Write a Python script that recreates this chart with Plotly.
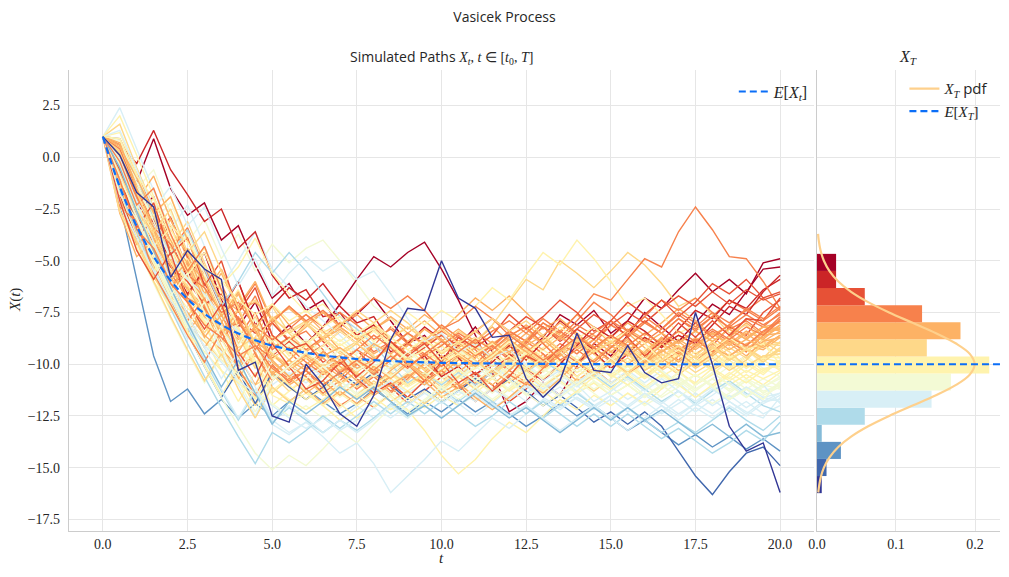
import plotly.graph_objects as go

# ---------------- data ----------------
time_step = 0.5  # t grid of the simulated paths: 0, 0.5, ..., 20

path_values = [
    [1.0, 0.3, -1.2, 0.9, -1.5, -2.8, -2.2, -4.0, -3.3, -5.2, -6.8, -6.1, -7.4, -6.9, -8.2, -7.6, -6.8, -7.9, -9.0, -8.6, -9.7, -9.1, -8.2, -9.4, -10.3, -9.5, -8.7, -7.6, -8.1, -7.4, -8.5, -7.9, -6.8, -7.3, -6.4, -5.6, -6.5, -5.9, -6.6, -5.1, -4.9],
    [1.0, -0.4, -2.6, -1.9, -4.1, -5.8, -4.6, -6.9, -8.2, -7.0, -8.9, -8.1, -9.0, -8.2, -7.1, -5.9, -4.8, -5.3, -4.6, -4.1, -5.4, -6.9, -8.6, -10.4, -12.3, -11.8, -10.9, -11.5, -10.1, -9.0, -9.6, -8.6, -7.5, -8.2, -8.9, -8.0, -7.1, -7.6, -6.5, -5.4, -5.3],
    [1.0, 0.6, -0.3, 1.3, -0.6, -1.8, -3.1, -2.5, -4.4, -3.6, -5.7, -6.8, -6.4, -7.7, -7.5, -8.6, -8.1, -9.4, -9.0, -8.2, -8.8, -9.7, -10.5, -9.9, -9.1, -9.8, -8.9, -7.9, -8.5, -9.4, -10.2, -9.5, -8.7, -9.2, -8.3, -7.4, -7.8, -6.9, -7.3, -6.4, -5.9],
    [1.0, -1.8, -3.9, -3.0, -5.2, -6.6, -5.4, -7.3, -6.0, -8.1, -7.2, -6.3, -6.9, -6.1, -7.2, -8.0, -7.7, -8.9, -10.1, -9.6, -10.6, -10.1, -11.0, -10.4, -9.5, -10.2, -10.8, -10.0, -9.1, -8.2, -8.7, -7.9, -8.4, -9.1, -8.6, -9.0, -8.1, -7.2, -7.6, -6.5, -5.7],
    [1.0, -0.9, -3.4, -2.2, -4.7, -3.9, -6.2, -5.0, -7.5, -6.3, -8.6, -9.3, -9.0, -9.9, -9.6, -10.7, -11.4, -10.9, -11.6, -10.8, -9.9, -8.7, -9.2, -8.6, -7.6, -8.3, -7.7, -6.9, -7.5, -8.4, -7.9, -8.7, -9.6, -8.9, -8.0, -8.7, -7.9, -8.6, -7.8, -7.9, -6.8],
    [1.0, -2.1, -4.5, -5.9, -4.6, -7.0, -8.3, -7.1, -9.4, -10.6, -9.0, -10.1, -11.2, -10.8, -9.9, -10.6, -9.9, -8.9, -9.6, -9.0, -9.9, -10.9, -10.4, -11.3, -10.6, -9.6, -10.0, -9.2, -8.3, -8.8, -7.9, -7.0, -7.6, -6.9, -7.7, -7.0, -6.1, -6.6, -5.9, -6.8, -6.5],
    [1.0, 0.1, -2.0, -3.8, -2.9, -4.8, -6.1, -7.4, -6.0, -8.2, -9.6, -8.9, -8.0, -8.9, -9.8, -9.3, -10.2, -11.1, -11.9, -11.3, -10.6, -11.2, -10.5, -11.0, -11.8, -11.2, -10.3, -9.4, -9.9, -10.6, -9.9, -10.4, -9.7, -8.7, -9.2, -9.9, -9.1, -8.2, -8.6, -7.5, -6.9],
    [1.0, -1.1, -2.7, -5.0, -6.3, -5.1, -7.2, -8.5, -7.3, -6.1, -8.0, -8.8, -8.4, -9.3, -10.4, -10.0, -9.1, -8.2, -8.9, -9.8, -9.4, -8.6, -9.3, -10.1, -9.7, -8.9, -9.5, -10.4, -9.9, -9.0, -8.1, -8.6, -7.9, -8.5, -9.3, -8.8, -9.4, -8.7, -7.8, -8.2, -7.5],
    [1.0, 0.4, -1.6, -3.2, -4.9, -6.7, -5.5, -7.6, -9.0, -8.2, -10.1, -10.7, -10.3, -11.2, -12.0, -11.5, -12.1, -11.4, -10.5, -10.9, -10.0, -9.2, -9.7, -9.1, -9.8, -9.0, -8.2, -8.7, -7.9, -7.0, -7.6, -8.4, -7.7, -6.9, -7.4, -6.8, -7.5, -8.3, -7.9, -8.5, -7.7],
    [1.0, -1.5, -3.6, -4.4, -6.2, -7.9, -6.8, -8.9, -7.7, -9.5, -10.8, -10.1, -10.6, -11.4, -10.8, -10.0, -10.5, -9.8, -9.0, -9.5, -10.1, -9.5, -10.0, -9.2, -8.4, -8.9, -8.0, -8.5, -7.6, -6.6, -6.9, -5.9, -4.9, -5.3, -3.6, -2.4, -3.5, -4.8, -4.9, -6.0, -7.3],
    [1.0, -2.4, -3.1, -5.6, -7.1, -8.6, -9.9, -8.4, -10.2, -11.5, -10.0, -10.9, -10.3, -9.4, -10.0, -9.3, -8.6, -9.2, -10.0, -10.8, -10.3, -11.0, -11.8, -11.2, -10.5, -11.0, -10.2, -9.4, -9.9, -9.2, -9.8, -10.5, -9.9, -9.0, -9.5, -8.8, -9.4, -8.7, -9.1, -8.4, -7.9],
    [1.0, -0.2, -2.3, -1.5, -3.7, -5.5, -4.3, -6.4, -7.9, -9.3, -8.0, -7.2, -7.9, -7.4, -8.1, -7.5, -6.8, -7.3, -6.7, -7.4, -8.3, -7.9, -7.2, -7.8, -8.6, -8.2, -9.0, -9.8, -9.3, -9.9, -9.2, -8.4, -8.9, -8.3, -7.5, -8.0, -8.7, -8.1, -7.3, -7.8, -7.2],
    [1.0, -1.3, -2.9, -4.1, -3.3, -5.4, -7.3, -6.1, -8.0, -6.7, -8.6, -9.4, -10.2, -9.7, -10.5, -11.2, -10.6, -11.3, -10.7, -9.9, -10.4, -11.2, -10.6, -9.8, -10.3, -10.9, -10.3, -9.5, -8.7, -9.2, -9.9, -9.4, -10.0, -9.3, -9.8, -9.1, -8.4, -8.9, -9.4, -8.6, -7.8],
    [1.0, 0.9, -0.8, -2.6, -4.5, -3.4, -5.3, -7.0, -8.7, -7.5, -9.3, -8.7, -9.3, -8.7, -8.0, -8.6, -9.4, -8.9, -9.5, -8.9, -8.1, -8.7, -9.5, -9.0, -9.7, -10.3, -9.7, -9.0, -9.5, -8.8, -8.1, -8.6, -7.9, -8.5, -7.8, -8.4, -7.7, -6.9, -7.4, -6.8, -7.4],
    [1.0, -1.0, -3.0, -4.6, -6.4, -5.2, -7.1, -8.8, -10.1, -8.7, -10.4, -9.8, -9.0, -9.7, -10.3, -9.8, -10.4, -9.8, -9.1, -8.3, -8.9, -8.3, -8.9, -9.7, -9.2, -8.5, -9.0, -9.8, -10.6, -10.0, -9.4, -10.0, -9.4, -8.7, -9.2, -9.9, -9.3, -8.6, -9.1, -8.5, -8.3],
    [1.0, -2.2, -4.2, -3.5, -5.8, -7.6, -9.2, -8.0, -6.6, -8.3, -7.1, -8.1, -7.6, -8.4, -9.3, -10.2, -9.8, -9.1, -9.9, -10.8, -11.6, -11.1, -10.4, -11.0, -10.3, -9.5, -10.1, -9.4, -10.0, -9.4, -8.6, -9.2, -9.9, -9.3, -9.9, -9.2, -8.5, -9.1, -8.5, -9.1, -8.6],
    [1.0, 0.5, -1.0, -2.7, -1.9, -4.0, -5.9, -7.7, -6.5, -8.4, -9.8, -10.6, -11.4, -10.8, -11.5, -10.9, -10.1, -10.7, -10.0, -10.6, -11.4, -10.9, -11.6, -12.2, -11.6, -10.9, -11.4, -10.7, -9.9, -10.4, -9.7, -8.9, -9.5, -8.8, -9.4, -10.1, -9.5, -8.8, -9.3, -8.6, -8.1],
    [1.0, -0.7, -2.5, -4.4, -3.0, -4.9, -6.8, -5.6, -7.4, -9.0, -7.8, -8.9, -8.2, -7.5, -8.1, -7.6, -8.3, -7.8, -8.5, -7.9, -8.6, -9.4, -8.9, -8.2, -8.9, -8.3, -9.0, -8.4, -7.6, -8.2, -9.0, -8.5, -9.2, -9.9, -9.4, -8.7, -9.3, -8.7, -8.0, -8.6, -8.5],
    [1.0, -1.9, -3.3, -5.1, -6.9, -8.5, -7.3, -9.2, -10.7, -9.4, -11.1, -11.8, -11.2, -11.9, -11.3, -11.9, -11.3, -10.5, -11.0, -10.4, -9.6, -10.2, -10.9, -10.3, -10.9, -10.3, -9.5, -10.1, -10.8, -10.2, -10.9, -10.4, -9.7, -10.2, -9.6, -8.8, -9.4, -10.1, -9.6, -8.9, -8.7],
    [1.0, 0.0, -2.1, -0.9, -3.0, -4.7, -6.6, -5.4, -7.2, -6.0, -7.9, -7.2, -8.0, -8.8, -8.3, -9.0, -9.7, -9.2, -8.5, -9.1, -8.4, -7.6, -6.8, -7.4, -6.7, -7.5, -8.3, -7.8, -8.5, -9.2, -8.7, -8.0, -8.6, -8.0, -7.3, -7.9, -8.6, -8.1, -8.7, -8.2, -8.0],
    [1.0, -1.2, -1.8, -3.9, -5.6, -4.4, -6.3, -7.9, -9.6, -11.0, -9.5, -10.3, -9.7, -10.4, -9.8, -10.5, -11.2, -10.6, -9.9, -10.5, -9.8, -10.4, -9.7, -8.9, -9.5, -8.8, -8.0, -8.6, -9.3, -8.8, -9.4, -8.8, -9.5, -10.2, -9.6, -9.0, -9.6, -9.0, -9.6, -8.9, -8.4],
    [1.0, -2.7, -4.8, -4.0, -6.0, -5.0, -6.9, -8.6, -7.4, -9.1, -10.5, -9.8, -10.3, -9.6, -9.2, -9.8, -9.0, -9.5, -8.9, -8.3, -8.8, -9.6, -10.1, -9.7, -9.0, -9.4, -8.8, -9.5, -10.2, -9.8, -9.1, -9.6, -9.0, -9.7, -10.3, -9.9, -9.2, -9.6, -9.0, -8.7, -8.2],
    [1.0, 0.7, -1.5, -3.4, -5.2, -7.0, -8.7, -7.6, -9.4, -8.1, -9.9, -10.6, -10.0, -9.4, -10.1, -10.8, -11.5, -11.0, -10.5, -11.0, -10.3, -9.6, -10.1, -9.5, -8.8, -9.4, -10.0, -9.4, -8.7, -9.2, -8.6, -9.2, -9.9, -9.4, -8.8, -9.3, -8.7, -9.3, -8.8, -9.2, -8.6],
    [1.0, -0.5, -2.2, -4.0, -5.9, -7.7, -6.5, -8.4, -10.0, -8.7, -7.2, -8.5, -9.3, -8.8, -9.5, -9.0, -8.3, -8.9, -9.6, -10.3, -9.9, -9.3, -9.9, -10.6, -10.1, -9.5, -10.1, -9.6, -8.9, -9.5, -10.2, -9.7, -10.3, -9.8, -9.1, -9.7, -10.3, -9.8, -9.2, -9.8, -9.2],
    [1.0, -1.6, -3.7, -5.4, -4.3, -6.3, -8.0, -9.6, -8.3, -10.0, -11.4, -10.7, -11.2, -10.5, -9.8, -10.4, -9.7, -10.2, -9.5, -8.7, -9.1, -8.4, -8.9, -8.1, -7.0, -5.9, -6.4, -5.0, -5.6, -6.3, -5.5, -4.6, -5.2, -6.1, -7.2, -6.8, -7.6, -8.5, -8.1, -8.9, -9.4],
    [1.0, 1.6, -0.5, -2.4, -4.3, -3.1, -5.1, -7.0, -8.6, -10.2, -8.9, -9.8, -10.7, -11.5, -11.0, -11.7, -11.1, -10.4, -11.0, -10.5, -11.1, -10.6, -9.9, -10.4, -9.8, -10.3, -11.0, -10.5, -9.9, -10.4, -9.8, -9.1, -9.6, -10.3, -9.8, -10.4, -9.9, -9.2, -9.7, -9.1, -9.0],
    [1.0, -1.3, -3.5, -2.8, -4.9, -6.8, -8.5, -7.2, -9.0, -7.7, -9.5, -8.8, -8.1, -8.7, -9.4, -8.9, -8.2, -8.8, -8.2, -8.8, -9.5, -9.0, -9.6, -10.3, -9.8, -9.2, -9.8, -9.2, -9.8, -10.5, -10.0, -9.4, -10.0, -9.5, -10.1, -9.6, -8.9, -9.4, -10.1, -9.6, -9.5],
    [1.0, -2.6, -4.1, -6.0, -7.7, -9.3, -10.8, -9.5, -11.2, -12.6, -11.1, -11.8, -11.2, -10.4, -11.0, -10.4, -11.1, -11.8, -11.3, -11.9, -11.3, -10.6, -11.2, -10.6, -9.8, -10.4, -9.7, -10.3, -11.0, -10.5, -9.8, -10.4, -9.8, -9.0, -9.6, -10.2, -9.7, -10.3, -9.8, -9.0, -9.1],
    [1.0, 0.2, -1.7, -3.6, -2.5, -4.6, -3.6, -5.5, -7.3, -9.0, -7.7, -8.5, -8.0, -8.7, -8.1, -7.4, -8.0, -7.4, -8.0, -8.8, -8.3, -9.0, -8.4, -7.8, -8.4, -7.9, -8.6, -9.3, -8.8, -9.4, -8.9, -9.5, -10.3, -9.8, -9.1, -9.7, -9.1, -9.8, -9.3, -9.9, -9.3],
    [1.0, -1.0, -2.9, -4.8, -6.6, -5.5, -7.4, -9.1, -10.6, -12.0, -10.5, -11.3, -10.7, -11.4, -12.1, -11.5, -10.8, -11.4, -10.8, -10.0, -10.6, -11.3, -10.7, -11.3, -10.7, -11.4, -12.0, -11.4, -10.7, -11.3, -10.7, -10.0, -10.6, -9.9, -10.5, -9.9, -9.2, -9.8, -9.2, -9.7, -8.9],
    [1.0, -0.3, -2.4, -4.2, -6.0, -4.9, -6.8, -8.5, -7.3, -9.0, -10.5, -9.8, -9.1, -9.7, -9.0, -9.6, -10.3, -9.8, -10.4, -9.8, -9.1, -9.7, -9.1, -9.8, -10.5, -10.0, -9.3, -9.9, -9.3, -9.9, -10.6, -10.1, -10.7, -10.1, -9.4, -10.0, -9.4, -10.0, -10.7, -10.2, -10.1],
    [1.0, -1.4, -3.2, -5.0, -6.7, -8.4, -10.0, -11.5, -10.1, -11.7, -10.2, -11.0, -11.7, -11.2, -11.9, -12.6, -12.1, -11.5, -12.2, -13.2, -14.4, -15.3, -14.6, -13.6, -12.8, -13.3, -12.5, -11.7, -12.2, -11.5, -12.0, -11.4, -11.9, -11.2, -10.4, -10.9, -10.2, -10.7, -10.0, -10.5, -9.8],
    [1.0, 1.2, -0.8, -2.8, -1.9, -3.9, -5.8, -7.6, -6.4, -8.2, -9.8, -9.1, -9.7, -9.1, -8.4, -9.0, -8.4, -9.1, -9.8, -9.3, -9.9, -9.4, -8.7, -9.3, -10.0, -9.5, -8.8, -9.4, -8.8, -9.4, -8.9, -9.5, -10.2, -9.7, -10.3, -11.0, -10.5, -9.8, -10.4, -9.8, -10.3],
    [1.0, -1.1, -2.6, -4.3, -3.4, -5.4, -4.4, -6.2, -5.3, -3.9, -5.6, -6.6, -7.5, -7.1, -7.9, -8.7, -8.3, -9.0, -9.8, -9.3, -10.0, -9.5, -10.1, -9.6, -8.9, -9.5, -8.9, -8.2, -8.8, -8.2, -8.9, -8.4, -9.0, -9.8, -9.3, -9.9, -9.3, -8.7, -9.3, -9.0, -10.0],
    [1.0, -2.0, -3.9, -5.7, -7.4, -6.3, -8.1, -9.7, -8.4, -10.1, -8.7, -9.5, -8.9, -9.5, -10.2, -9.7, -10.3, -11.0, -10.5, -9.8, -10.4, -9.8, -9.1, -9.7, -9.1, -9.8, -9.2, -8.5, -9.1, -9.8, -9.3, -9.9, -9.3, -8.7, -9.3, -8.8, -9.4, -10.1, -9.6, -9.0, -9.7],
    [1.0, 0.3, -1.9, -3.3, -5.2, -7.0, -8.7, -10.3, -11.8, -10.4, -12.0, -11.3, -10.6, -11.1, -10.4, -9.7, -10.2, -9.5, -10.1, -9.5, -8.8, -9.4, -10.0, -9.4, -10.0, -10.7, -10.2, -10.8, -11.4, -10.9, -11.5, -11.0, -11.6, -11.0, -10.4, -11.0, -10.4, -11.0, -10.5, -11.0, -10.4],
    [1.0, -0.6, -2.8, -2.0, -4.1, -6.0, -7.8, -6.6, -8.4, -10.0, -11.5, -11.9, -11.4, -12.0, -11.4, -12.0, -11.4, -10.7, -11.3, -10.7, -11.2, -10.6, -11.2, -11.8, -11.2, -10.5, -11.1, -10.5, -9.8, -10.4, -9.8, -10.4, -9.8, -10.4, -11.0, -10.5, -11.1, -10.5, -9.9, -10.4, -9.9],
    [1.0, -1.7, -3.8, -5.5, -4.4, -6.3, -8.0, -9.6, -8.3, -10.0, -8.6, -9.6, -9.0, -8.3, -8.9, -8.3, -8.9, -8.3, -7.5, -8.1, -7.4, -7.9, -7.2, -6.3, -6.9, -5.7, -4.6, -5.2, -4.0, -4.9, -6.0, -7.2, -6.8, -7.6, -8.5, -8.1, -8.9, -9.7, -9.3, -10.0, -10.2],
    [1.0, 2.0, 0.1, -1.9, -3.8, -5.7, -4.6, -6.5, -8.2, -9.8, -11.3, -10.6, -11.3, -12.0, -12.7, -12.2, -11.6, -12.2, -11.6, -12.1, -11.5, -12.0, -11.4, -10.7, -11.3, -10.7, -11.3, -11.9, -11.3, -10.6, -11.2, -10.5, -11.1, -10.5, -11.0, -11.6, -11.0, -10.4, -10.9, -10.3, -9.8],
    [1.0, -0.9, -2.9, -4.7, -6.5, -8.2, -7.0, -8.8, -10.4, -9.1, -10.7, -10.1, -9.4, -10.0, -9.3, -9.9, -10.6, -10.1, -9.4, -10.0, -10.7, -10.2, -10.8, -10.2, -10.8, -11.5, -11.0, -11.6, -11.0, -10.4, -11.0, -10.4, -11.0, -11.6, -11.1, -10.5, -11.1, -11.7, -11.2, -11.7, -10.8],
    [1.0, -0.2, -1.4, -3.1, -2.2, -4.1, -3.0, -4.9, -3.7, -5.5, -4.2, -5.1, -4.4, -4.0, -5.0, -6.1, -7.2, -7.8, -8.6, -9.5, -9.1, -9.8, -9.3, -9.9, -10.6, -10.1, -10.7, -10.2, -9.6, -10.2, -9.7, -10.3, -9.8, -10.4, -11.0, -10.5, -11.1, -10.6, -11.2, -10.7, -11.1],
    [1.0, -2.3, -4.3, -6.1, -7.8, -9.4, -10.9, -9.6, -8.3, -10.0, -8.6, -9.4, -8.8, -9.4, -8.8, -9.5, -8.9, -9.6, -10.3, -9.8, -10.4, -11.1, -10.6, -11.2, -10.7, -10.0, -10.6, -10.0, -10.6, -11.2, -10.7, -10.1, -10.7, -10.1, -9.5, -10.1, -9.5, -10.1, -9.6, -10.2, -10.6],
    [1.0, -1.5, -3.3, -5.1, -6.8, -8.5, -10.1, -11.6, -13.0, -14.3, -15.1, -14.4, -14.9, -14.1, -13.2, -13.8, -12.9, -12.1, -12.6, -11.8, -11.0, -11.5, -10.8, -11.4, -10.8, -11.4, -12.0, -11.4, -10.8, -11.4, -12.0, -11.4, -12.0, -11.5, -10.8, -11.4, -11.9, -11.4, -10.8, -11.3, -11.0],
    [1.0, 0.8, -1.2, -3.1, -4.9, -3.7, -5.6, -7.4, -9.1, -7.8, -9.5, -8.8, -9.4, -10.2, -9.7, -10.3, -9.8, -9.1, -9.7, -9.1, -9.8, -9.3, -9.9, -10.6, -11.3, -10.8, -10.2, -10.8, -10.2, -10.8, -11.5, -11.0, -11.6, -11.1, -10.4, -11.0, -10.4, -11.0, -11.6, -11.1, -10.7],
    [1.0, -0.4, -2.5, -4.4, -6.2, -7.9, -9.5, -8.2, -9.9, -11.4, -9.9, -10.6, -11.2, -10.6, -11.3, -10.7, -10.0, -10.6, -10.0, -10.6, -11.3, -10.7, -10.1, -10.7, -10.1, -9.4, -10.0, -9.4, -10.0, -10.7, -10.2, -10.8, -11.5, -11.0, -11.6, -11.0, -10.4, -11.0, -11.6, -11.0, -11.2],
    [1.0, -1.8, -3.0, -4.9, -6.7, -5.6, -7.5, -9.2, -10.8, -12.3, -10.8, -10.1, -10.7, -10.1, -10.8, -11.5, -11.0, -11.6, -12.3, -11.7, -11.1, -11.7, -11.1, -11.7, -11.1, -10.4, -11.0, -10.4, -11.0, -10.4, -9.7, -10.3, -9.7, -10.3, -11.0, -10.5, -11.1, -11.7, -11.2, -11.7, -10.9],
    [1.0, 0.5, -1.5, -0.6, -2.7, -4.6, -6.4, -8.1, -9.7, -8.4, -10.1, -10.9, -10.3, -10.9, -11.6, -11.0, -10.4, -11.0, -10.4, -9.7, -10.3, -9.6, -9.0, -9.6, -9.0, -9.7, -10.4, -9.8, -10.4, -9.9, -10.5, -9.9, -10.5, -11.2, -10.7, -11.3, -10.7, -10.1, -10.7, -11.4, -11.0],
    [1.0, 2.4, 0.4, -1.6, -3.5, -2.3, -4.3, -6.2, -5.0, -3.6, -5.4, -6.3, -7.2, -7.9, -8.6, -9.4, -9.0, -9.7, -10.4, -9.9, -10.5, -10.0, -10.6, -10.0, -10.7, -11.4, -10.9, -11.5, -10.9, -10.3, -10.9, -10.3, -10.9, -10.3, -10.9, -11.6, -11.1, -11.7, -11.2, -11.8, -11.7],
    [1.0, -1.0, -2.9, -4.7, -6.4, -8.1, -9.7, -11.2, -12.6, -11.2, -12.7, -13.3, -12.8, -13.5, -14.3, -13.8, -14.8, -16.2, -15.4, -14.6, -13.7, -14.2, -13.4, -12.6, -13.1, -12.4, -11.7, -12.2, -11.6, -12.1, -11.5, -12.1, -11.5, -12.0, -12.7, -12.1, -12.6, -12.0, -12.5, -11.9, -11.5],
    [1.0, 1.3, -0.6, -2.5, -1.4, -3.3, -2.4, -4.4, -6.2, -4.9, -6.7, -5.6, -4.8, -5.5, -5.0, -5.9, -5.5, -6.6, -7.8, -8.9, -8.5, -9.4, -9.0, -9.7, -9.3, -10.0, -10.8, -10.3, -11.0, -11.8, -11.3, -10.7, -11.3, -10.7, -11.3, -12.0, -11.5, -10.9, -11.5, -11.0, -11.9],
    [1.0, -0.1, -2.2, -4.1, -5.9, -7.6, -9.2, -10.7, -9.4, -11.1, -12.6, -12.0, -12.6, -13.3, -12.7, -13.3, -12.7, -12.0, -12.6, -12.0, -12.6, -12.0, -11.3, -11.9, -12.5, -12.0, -12.6, -13.2, -12.6, -12.0, -12.6, -13.2, -12.6, -12.0, -12.5, -11.9, -11.2, -11.8, -12.4, -11.8, -11.4],
    [1.0, -1.3, -3.4, -5.3, -7.1, -8.8, -7.6, -9.4, -11.0, -12.5, -11.0, -10.4, -10.9, -10.3, -9.6, -10.2, -9.6, -10.3, -11.0, -10.5, -11.1, -10.6, -9.9, -10.5, -9.9, -10.5, -11.2, -10.7, -11.3, -12.0, -11.5, -12.1, -12.8, -12.3, -11.7, -12.3, -11.7, -12.3, -11.8, -12.4, -12.0],
    [1.0, 0.4, -1.8, -3.7, -5.5, -4.4, -6.3, -8.1, -9.8, -11.4, -12.9, -13.4, -12.8, -13.3, -12.7, -12.0, -12.6, -12.0, -11.3, -11.9, -11.3, -11.9, -12.5, -11.9, -11.2, -11.8, -11.2, -10.5, -11.1, -10.5, -11.1, -11.7, -11.2, -11.8, -12.4, -11.9, -12.4, -11.8, -12.3, -12.6, -11.6],
    [1.0, -0.8, -2.8, -4.7, -6.5, -8.2, -9.8, -11.3, -12.7, -11.3, -12.8, -12.1, -12.7, -13.3, -12.7, -13.2, -12.6, -11.9, -12.5, -11.9, -11.2, -11.8, -11.2, -11.8, -12.5, -12.0, -12.6, -12.0, -11.4, -12.0, -12.6, -12.1, -12.7, -13.3, -12.8, -13.3, -12.7, -12.1, -12.7, -13.2, -12.5],
    [1.0, 0.9, -1.0, -2.9, -4.7, -3.5, -5.4, -7.2, -6.0, -4.6, -5.6, -4.6, -5.5, -6.6, -7.7, -8.3, -9.1, -10.0, -10.9, -10.4, -11.0, -10.4, -11.0, -10.4, -9.8, -10.4, -9.8, -10.4, -11.0, -10.5, -11.1, -10.6, -11.2, -11.8, -11.3, -11.9, -11.3, -10.8, -11.4, -12.0, -12.3],
    [1.0, -1.6, -3.6, -5.5, -7.3, -9.0, -10.6, -12.1, -13.5, -14.8, -13.3, -13.8, -13.2, -12.5, -13.1, -12.5, -11.8, -12.4, -11.8, -12.4, -11.8, -12.4, -13.0, -12.5, -11.8, -12.4, -11.8, -12.4, -13.0, -12.4, -13.0, -12.4, -13.0, -13.6, -13.1, -13.7, -14.3, -13.8, -13.2, -13.7, -12.8],
    [1.0, -0.5, -2.6, -4.5, -6.3, -8.0, -9.6, -11.1, -9.8, -11.4, -12.9, -11.8, -12.4, -11.8, -11.1, -11.7, -11.1, -11.8, -12.5, -12.0, -12.6, -12.0, -11.4, -12.0, -12.6, -12.1, -12.7, -13.3, -12.7, -12.1, -12.7, -12.1, -12.7, -12.2, -12.8, -13.4, -12.9, -13.5, -12.9, -13.5, -13.3],
    [1.0, -2.2, -5.9, -9.6, -11.8, -11.2, -12.4, -11.7, -12.6, -11.9, -12.5, -11.8, -11.2, -11.8, -12.4, -11.9, -11.2, -11.8, -12.4, -11.8, -12.3, -11.7, -12.3, -11.8, -12.4, -13.0, -12.5, -11.9, -12.5, -12.0, -12.6, -13.2, -12.7, -13.3, -13.9, -13.4, -14.0, -13.5, -14.1, -13.6, -14.2],
    [1.0, -1.2, -3.1, -5.0, -6.8, -8.5, -10.1, -11.6, -10.3, -11.9, -10.4, -11.1, -11.7, -11.1, -10.4, -11.0, -10.4, -11.0, -11.7, -11.2, -11.8, -11.3, -10.7, -11.3, -10.7, -11.3, -12.0, -11.5, -12.1, -12.8, -12.3, -12.9, -12.3, -13.0, -14.2, -15.4, -16.3, -15.2, -14.3, -14.0, -14.9],
    [1.0, -0.6, -2.9, -4.1, -5.3, -6.0, -7.1, -6.6, -7.8, -8.5, -8.0, -8.9, -9.6, -9.1, -8.4, -9.0, -8.3, -8.9, -9.7, -9.2, -8.6, -9.1, -8.4, -7.8, -8.4, -7.7, -8.2, -8.9, -8.3, -7.6, -8.1, -7.5, -8.0, -7.3, -6.7, -7.2, -6.5, -7.1, -6.4, -6.9, -6.6],
    [1.0, -1.8, -3.0, -4.9, -5.6, -6.8, -7.3, -8.4, -8.0, -9.1, -9.7, -9.2, -9.9, -10.5, -10.0, -9.3, -9.8, -9.1, -8.5, -9.0, -8.4, -8.9, -9.6, -9.1, -8.4, -8.9, -8.2, -8.8, -8.1, -8.6, -9.2, -8.7, -8.0, -8.5, -7.8, -8.3, -7.7, -8.2, -7.6, -8.1, -7.6],
    [1.0, 0.1, -1.9, -3.4, -4.2, -5.7, -6.3, -7.5, -7.0, -8.2, -8.8, -8.3, -7.6, -8.2, -7.5, -8.1, -8.8, -8.3, -9.0, -9.6, -9.1, -8.5, -9.0, -8.4, -7.9, -8.5, -7.8, -8.4, -9.0, -8.5, -7.9, -8.4, -7.7, -8.3, -7.6, -8.2, -7.5, -8.0, -7.4, -7.9, -7.3],
    [1.0, -1.1, -3.5, -4.4, -6.1, -7.0, -8.1, -8.7, -9.6, -9.1, -10.2, -10.8, -10.3, -11.0, -10.4, -9.8, -10.3, -9.6, -10.2, -9.5, -8.9, -9.4, -8.8, -9.3, -8.6, -9.2, -9.8, -9.3, -8.7, -9.2, -8.6, -9.1, -8.5, -9.0, -8.4, -8.9, -8.3, -8.8, -8.2, -8.6, -7.9],
    [1.0, -0.3, -2.2, -3.9, -5.0, -6.4, -7.2, -8.1, -8.8, -8.3, -9.2, -8.7, -9.4, -8.8, -8.2, -8.8, -9.5, -9.0, -9.7, -9.1, -8.6, -9.2, -8.7, -9.3, -8.7, -8.1, -8.7, -9.3, -8.8, -9.4, -8.9, -8.3, -8.8, -9.4, -8.9, -8.4, -8.9, -8.3, -8.8, -8.2, -8.4],
    [1.0, -2.0, -3.8, -5.2, -6.7, -7.5, -8.6, -9.3, -10.1, -9.6, -10.4, -11.0, -10.5, -10.0, -10.6, -9.9, -10.5, -11.1, -10.6, -10.0, -10.5, -9.8, -9.2, -9.7, -9.1, -9.6, -10.2, -9.6, -9.0, -9.5, -8.9, -9.4, -8.7, -9.2, -8.6, -9.1, -8.5, -9.0, -8.4, -8.8, -8.1],
    [1.0, 0.6, -1.3, -2.6, -4.0, -5.1, -5.9, -6.8, -7.4, -7.0, -7.8, -7.3, -8.0, -7.5, -8.2, -8.8, -8.3, -7.7, -8.3, -7.6, -8.2, -8.9, -8.4, -9.0, -8.5, -9.1, -8.6, -8.0, -8.6, -9.2, -8.7, -9.3, -8.8, -9.4, -8.9, -9.5, -9.0, -9.6, -9.1, -9.3, -8.7],
    [1.0, -1.2, -2.5, -4.6, -5.9, -6.3, -7.7, -8.4, -7.9, -8.9, -9.5, -10.1, -9.6, -10.2, -10.9, -10.4, -11.0, -10.3, -9.7, -10.2, -9.6, -10.1, -9.5, -8.9, -9.4, -8.8, -9.3, -8.7, -9.2, -8.6, -9.1, -9.6, -9.0, -8.5, -9.0, -8.4, -8.9, -8.3, -8.8, -8.2, -8.3],
    [1.0, -0.8, -2.6, -3.7, -5.5, -6.2, -7.6, -8.3, -9.2, -8.7, -9.5, -10.0, -9.5, -10.1, -9.6, -9.0, -9.6, -10.2, -9.7, -10.3, -9.8, -9.2, -9.8, -10.4, -9.9, -9.3, -9.9, -9.4, -8.8, -9.4, -8.9, -9.5, -10.1, -9.6, -9.1, -9.7, -9.2, -9.8, -9.3, -9.7, -9.3],
    [1.0, -2.4, -4.0, -5.8, -6.9, -8.1, -8.9, -9.8, -10.4, -11.0, -10.5, -11.1, -11.7, -11.2, -10.6, -11.1, -10.5, -11.0, -10.4, -9.8, -10.3, -9.7, -10.2, -9.6, -10.1, -9.5, -10.0, -9.4, -9.9, -9.3, -9.8, -9.2, -9.7, -9.1, -9.6, -9.0, -9.5, -8.9, -9.4, -8.8, -9.0],
    [1.0, 0.3, -1.6, -2.8, -3.5, -4.6, -5.8, -6.4, -7.3, -6.9, -7.8, -8.4, -7.9, -8.5, -8.0, -8.6, -8.1, -8.7, -8.2, -8.8, -9.4, -8.9, -9.5, -9.0, -9.6, -9.1, -9.7, -10.3, -9.8, -10.4, -9.9, -9.4, -10.0, -9.5, -10.1, -9.6, -10.2, -9.7, -10.1, -9.6, -9.5],
    [1.0, -1.5, -3.3, -4.8, -6.2, -7.3, -7.9, -8.8, -9.4, -10.1, -9.6, -10.2, -9.7, -10.3, -10.9, -10.4, -11.0, -10.5, -11.1, -10.6, -10.1, -10.7, -10.2, -9.6, -10.2, -9.7, -10.3, -9.8, -10.4, -9.9, -10.5, -10.0, -10.6, -10.1, -9.5, -10.1, -9.6, -10.2, -9.7, -10.3, -10.0],
    [1.0, 0.0, -2.3, -3.6, -5.1, -5.8, -7.0, -7.6, -8.5, -8.1, -8.9, -8.4, -9.0, -8.5, -9.1, -8.6, -9.2, -8.7, -9.3, -9.9, -9.4, -10.0, -9.5, -10.1, -9.6, -10.2, -9.7, -10.3, -9.8, -9.3, -9.8, -9.2, -9.8, -9.3, -9.9, -9.4, -10.0, -9.5, -10.1, -9.6, -9.7],
    [1.0, -2.6, -4.4, -6.0, -7.2, -8.5, -9.4, -10.3, -10.9, -11.6, -11.1, -11.7, -12.2, -11.7, -11.1, -11.6, -11.0, -10.5, -11.0, -10.4, -10.9, -10.3, -10.8, -11.3, -10.8, -10.2, -10.7, -10.1, -10.6, -10.0, -10.5, -11.0, -10.5, -9.9, -10.4, -9.8, -10.3, -10.8, -10.3, -10.7, -10.3],
    [1.0, 0.9, -0.9, -2.0, -3.3, -4.1, -5.3, -6.0, -6.9, -7.6, -7.1, -7.9, -7.4, -8.2, -7.7, -8.5, -8.0, -8.7, -9.3, -8.8, -9.4, -8.9, -9.5, -9.0, -9.6, -10.2, -9.7, -10.3, -9.8, -10.4, -9.9, -10.5, -10.0, -10.6, -10.1, -10.6, -10.1, -9.6, -10.2, -9.7, -9.9],
    [1.0, -1.0, -2.7, -4.3, -5.7, -6.6, -7.8, -8.5, -9.4, -10.0, -10.6, -10.1, -10.7, -11.3, -10.8, -11.4, -10.9, -11.5, -11.0, -10.4, -11.0, -10.5, -11.1, -10.6, -11.2, -10.7, -11.3, -10.8, -11.4, -10.9, -11.5, -11.0, -11.6, -11.1, -10.6, -11.2, -10.7, -11.3, -10.8, -11.4, -10.9],
    [1.0, 0.4, -1.5, -3.0, -4.5, -5.3, -6.7, -7.2, -8.3, -8.9, -9.5, -9.0, -9.6, -9.1, -9.7, -10.3, -9.8, -10.4, -9.9, -10.5, -10.0, -10.6, -10.1, -10.7, -10.2, -9.7, -10.3, -9.8, -10.4, -9.9, -10.5, -11.0, -10.5, -11.1, -10.6, -11.2, -10.7, -11.2, -10.7, -11.1, -10.6],
    [1.0, -1.9, -3.2, -5.1, -6.4, -7.9, -8.7, -9.8, -10.5, -11.3, -11.9, -12.5, -12.0, -12.6, -12.1, -11.5, -12.0, -11.4, -11.9, -11.3, -11.8, -11.2, -11.7, -11.1, -11.6, -11.0, -11.5, -10.9, -11.4, -10.8, -11.3, -10.7, -11.2, -10.6, -11.1, -10.5, -11.0, -11.6, -11.1, -11.5, -11.1],
    [1.0, -0.4, -2.1, -3.3, -4.7, -5.9, -6.6, -7.7, -8.4, -9.3, -9.9, -10.5, -10.0, -10.6, -11.2, -10.7, -11.3, -10.8, -11.4, -10.9, -11.5, -12.0, -11.5, -12.1, -11.6, -11.0, -11.6, -11.1, -11.7, -12.2, -11.7, -12.3, -11.8, -12.4, -11.9, -11.4, -12.0, -11.5, -12.1, -11.6, -11.8],
    [1.0, -2.2, -3.9, -5.5, -6.9, -8.0, -9.1, -9.9, -10.8, -11.4, -12.0, -12.6, -13.1, -12.6, -13.2, -12.7, -12.1, -12.6, -12.0, -11.4, -11.9, -11.3, -11.8, -11.2, -11.7, -11.1, -11.6, -12.1, -11.6, -12.1, -11.5, -12.0, -11.4, -11.9, -11.3, -11.8, -11.2, -11.7, -11.1, -11.6, -11.4],
    [1.0, 0.1, -1.7, -2.4, -5.8, -4.5, -5.4, -5.9, -10.3, -9.9, -12.5, -12.8, -10.0, -11.0, -12.4, -13.0, -11.5, -8.8, -7.3, -7.4, -5.0, -6.8, -7.3, -8.7, -8.6, -10.7, -11.6, -10.8, -8.5, -10.3, -10.4, -9.1, -10.4, -10.9, -10.7, -7.5, -10.0, -13.0, -14.2, -13.8, -16.2],
]

# histogram of X_T (density per bin, bottom bin first)
hist_lower = -16.23
hist_width = 0.826
hist_density = [0.00605, 0.0121, 0.0303, 0.00605, 0.0605, 0.145, 0.1695,
                0.218, 0.139, 0.1816, 0.133, 0.0605, 0.0242, 0.0242]
bin_colors = ["#313695", "#4067ad", "#5e93c4", "#85bbd8", "#afdbea", "#d8eff6", "#f3fad5",
              "#fff3ad", "#fed889", "#fdb265", "#f7814c", "#e75136", "#cb2527", "#a50026"]

# expectation curve E[X_t]
mean_t = [0, 0.5, 1, 1.5, 2, 2.5, 3, 3.5, 4, 4.5, 5, 6, 7, 8, 9, 10, 12, 14, 16, 18, 20]
mean_x = [1.0, -1.43, -3.33, -4.80, -5.95, -6.85, -7.55, -8.09, -8.51, -8.84, -9.10,
          -9.45, -9.67, -9.80, -9.88, -9.93, -9.97, -9.99, -10.0, -10.0, -10.0]

# pdf of X_T (level, density)
pdf_level = [-16.2, -15.5, -15.0, -14.5, -14.0, -13.5, -13.0, -12.5, -12.0, -11.5, -11.0, -10.5, -10.0,
             -9.5, -9.0, -8.5, -8.0, -7.5, -7.0, -6.5, -6.0, -5.5, -5.0, -4.5, -4.0, -3.7]
pdf_density = [0.00163, 0.00455, 0.00876, 0.0159, 0.0270, 0.0432, 0.0648, 0.0913, 0.1210, 0.1506, 0.1760, 0.1934, 0.1995,
               0.1934, 0.1760, 0.1506, 0.1210, 0.0913, 0.0648, 0.0432, 0.0270, 0.0159, 0.00876, 0.00455, 0.0022, 0.0014]
long_run_mean = -10.0

# ---------------- figure ----------------
SERIF = "Liberation Serif"
SANS = "Open Sans"
MEAN_BLUE = "#0b6ef7"
GRID = "#e6e6e6"
SPINE = "#cccccc"
TXT = "#262626"

fig = go.Figure()

n_bins = len(hist_density)


def bin_of(v):
    k = int((v - hist_lower) // hist_width)
    return min(max(k, 0), n_bins - 1)


n = len(path_values)
order = [(i * 17) % (n - 1) for i in range(n - 1)] + [n - 1]
for idx in order:
    vals = path_values[idx]
    ts = [i * time_step for i in range(len(vals))]
    fig.add_trace(go.Scatter(
        x=ts, y=vals, mode="lines",
        line=dict(color=bin_colors[bin_of(vals[-1])], width=1.4),
        showlegend=False, hoverinfo="skip", xaxis="x", yaxis="y"))

fig.add_trace(go.Scatter(
    x=mean_t, y=mean_x, mode="lines",
    line=dict(color=MEAN_BLUE, width=2.2, dash="7px,4px", shape="spline"),
    name="<i>E</i>[<i>X<sub>t</sub></i>]", legend="legend", xaxis="x", yaxis="y"))

centers = [hist_lower + (k + 0.5) * hist_width for k in range(n_bins)]
fig.add_trace(go.Bar(
    x=hist_density, y=centers, orientation="h", width=hist_width,
    marker=dict(color=bin_colors, line=dict(width=0)),
    showlegend=False, hoverinfo="skip", xaxis="x2", yaxis="y2"))

fig.add_trace(go.Scatter(
    x=pdf_density, y=pdf_level, mode="lines",
    line=dict(color="#fed08c", width=2.2, shape="spline"),
    name='<i>X<sub>T</sub></i> <span style="font-family:Open Sans">pdf</span>',
    legend="legend2", xaxis="x2", yaxis="y2"))

fig.add_trace(go.Scatter(
    x=[0, 0.2316], y=[long_run_mean, long_run_mean], mode="lines",
    line=dict(color=MEAN_BLUE, width=2.2, dash="7px,4px"),
    name="<i>E</i>[<i>X<sub>T</sub></i>]", legend="legend2", xaxis="x2", yaxis="y2"))


def axis_style(**extra):
    d = dict(showgrid=True, gridcolor=GRID, gridwidth=1, zeroline=False,
             showline=True, linecolor=SPINE, linewidth=1.2, ticks="",
             tickfont=dict(family=SERIF, size=14, color=TXT))
    d.update(extra)
    return d


fig.update_layout(
    width=1009, height=577,
    margin=dict(l=69, r=9, t=70, b=46),
    paper_bgcolor="white", plot_bgcolor="white",
    font=dict(family=SERIF, size=14, color=TXT),
    title=dict(text="Vasicek Process", x=0.5, xanchor="center", y=1 - 17 / 577, yanchor="middle",
               font=dict(family=SANS, size=14, color=TXT)),
    xaxis=axis_style(domain=[0, 0.8002], range=[-1, 21], tickmode="linear", tick0=0, dtick=2.5,
                     tickformat=".1f", anchor="y"),
    yaxis=axis_style(domain=[0, 1], range=[-18.06, 4.22], tickmode="linear", tick0=0, dtick=2.5,
                     tickformat=".1f", anchor="x", ticklabelstandoff=5),
    xaxis2=axis_style(domain=[0.8034, 1], range=[0, 0.2316], tickmode="linear", tick0=0, dtick=0.1,
                      tickformat=".1f", anchor="y2"),
    yaxis2=axis_style(domain=[0, 1], matches="y", anchor="x2", showticklabels=False, tickmode="linear",
                      tick0=0, dtick=2.5),
    showlegend=True,
    legend=dict(x=0.80, xanchor="right", y=0.99, yanchor="top", bgcolor="rgba(0,0,0,0)",
                font=dict(family=SERIF, size=16, color=TXT), itemwidth=30),
    legend2=dict(x=0.994, xanchor="right", y=0.995, yanchor="top", bgcolor="rgba(0,0,0,0)",
                 font=dict(family=SERIF, size=15, color=TXT), itemwidth=30, tracegroupgap=0),
    annotations=[
        dict(text='Simulated Paths <span style="font-family:Liberation Serif">'
                  '<i>X<sub>t</sub></i>, <i>t</i> ∈ [<i>t</i><sub>0</sub>, <i>T</i>]</span>',
             xref="paper", yref="paper", x=0.4001, y=1 + 13 / 461, xanchor="center", yanchor="middle",
             showarrow=False, font=dict(family=SANS, size=14, color=TXT)),
        dict(text="<i>X<sub>T</sub></i>", xref="paper", yref="paper", x=0.901, y=1 + 13 / 461,
             xanchor="center", yanchor="middle", showarrow=False,
             font=dict(family=SERIF, size=16, color=TXT)),
        dict(text="<i>t</i>", xref="paper", yref="paper", x=0.4001, y=-(558 - 531) / 461,
             xanchor="center", yanchor="middle", showarrow=False,
             font=dict(family=SERIF, size=15, color=TXT)),
        dict(text="<i>X</i>(<i>t</i>)", xref="paper", yref="paper", x=-(69 - 15) / 931,
             y=(531 - 300) / 461, xanchor="center", yanchor="middle", textangle=-90,
             showarrow=False, font=dict(family=SERIF, size=15, color=TXT)),
    ],
)

fig.write_html("out.html")
